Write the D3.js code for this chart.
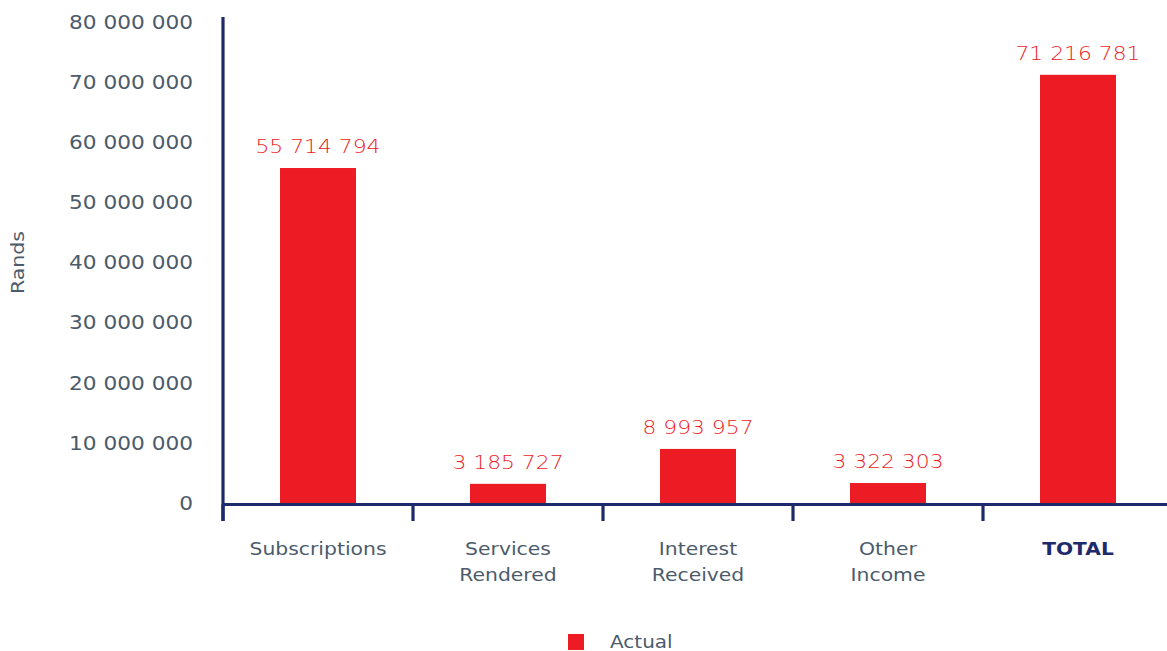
<!DOCTYPE html>
<html>
<head>
<meta charset="utf-8">
<script src="https://cdn.jsdelivr.net/npm/d3@7"></script>
<style>
  html, body { margin: 0; padding: 0; background: #ffffff; }
  svg { display: block; font-family: "DejaVu Sans", sans-serif; }
</style>
</head>
<body>
<svg id="chart" width="1167" height="651"></svg>
<script>
// Income by source, in Rands
const categories = ["Subscriptions", "Services Rendered", "Interest Received", "Other Income", "TOTAL"];
const categoryLines = [["Subscriptions"], ["Services", "Rendered"], ["Interest", "Received"], ["Other", "Income"], ["TOTAL"]];
const actualValues = [55714794, 3185727, 8993957, 3322303, 71216781];
const yTicks = [0, 10000000, 20000000, 30000000, 40000000, 50000000, 60000000, 70000000, 80000000];
const seriesName = "Actual";

const navy = "#1d2b6b";
const red = "#ed1c24";
const textGrey = "#4b5b6b";

const svg = d3.select("#chart");
const margin = { left: 223, right: -6, top: 22, bottom: 148 };
const width = 1167, height = 651;

const x = d3.scaleBand()
  .domain(categories)
  .range([margin.left, width - margin.right])
  .paddingInner(0.6)
  .paddingOuter(0.3);

const y = d3.scaleLinear()
  .domain([0, 80000000])
  .range([height - margin.bottom, margin.top]);

const fmt = v => d3.format(",")(v).replace(/,/g, " ");

// Widen glyphs to give the extended typeface look
function widen(sel, factor) {
  sel.each(function () {
    const w = this.getComputedTextLength();
    d3.select(this).attr("textLength", w * factor).attr("lengthAdjust", "spacingAndGlyphs");
  });
}

// Y tick labels
svg.append("g")
  .selectAll("text")
  .data(yTicks)
  .join("text")
  .attr("x", 193)
  .attr("y", d => y(d))
  .attr("dy", "0.36em")
  .attr("text-anchor", "end")
  .attr("fill", textGrey)
  .attr("font-size", 19)
  .text(d => fmt(d))
  .call(widen, 1.14);

// Y axis title
svg.append("text")
  .attr("transform", `translate(24, ${(y(0) + y(80000000)) / 2}) rotate(-90)`)
  .attr("text-anchor", "middle")
  .attr("fill", textGrey)
  .attr("font-size", 18)
  .text("Rands")
  .call(widen, 1.14);

// Bars
svg.append("g")
  .selectAll("rect")
  .data(categories)
  .join("rect")
  .attr("x", d => x(d))
  .attr("width", x.bandwidth())
  .attr("y", (d, i) => y(actualValues[i]))
  .attr("height", (d, i) => y(0) - y(actualValues[i]))
  .attr("fill", red);

// Value labels
svg.append("g")
  .selectAll("text")
  .data(categories)
  .join("text")
  .attr("x", d => x(d) + x.bandwidth() / 2)
  .attr("y", (d, i) => y(actualValues[i]) - 15)
  .attr("text-anchor", "middle")
  .attr("fill", red)
  .attr("font-size", 19.5)
  .attr("font-weight", 200)
  .text((d, i) => fmt(actualValues[i]))
  .call(widen, 1.12);

// Axis lines and category ticks
const baseY = y(0) + 1.5;
const axisG = svg.append("g").attr("stroke", navy).attr("stroke-width", 3.2);
axisG.append("line")
  .attr("x1", margin.left).attr("x2", margin.left)
  .attr("y1", 17).attr("y2", 521);
axisG.append("line")
  .attr("x1", margin.left).attr("x2", width)
  .attr("y1", baseY).attr("y2", baseY);
axisG.selectAll("line.tick")
  .data(categories)
  .join("line")
  .attr("class", "tick")
  .attr("x1", d => x(d) - x.bandwidth() * 0.75)
  .attr("x2", d => x(d) - x.bandwidth() * 0.75)
  .attr("y1", baseY).attr("y2", 521);

// Category labels, one text element per line
const catG = svg.append("g");
categories.forEach((c, i) => {
  categoryLines[i].forEach((line, j) => {
    catG.append("text")
      .attr("x", x(c) + x.bandwidth() / 2)
      .attr("y", 555 + j * 26)
      .attr("text-anchor", "middle")
      .attr("font-size", 18.5)
      .attr("fill", c === "TOTAL" ? navy : textGrey)
      .attr("font-weight", c === "TOTAL" ? 700 : 400)
      .text(line)
      .call(widen, c === "TOTAL" ? 1.09 : 1.1);
  });
});

// Legend
svg.append("rect")
  .attr("x", 568).attr("y", 634).attr("width", 16).attr("height", 16)
  .attr("fill", red);
svg.append("text")
  .attr("x", 610).attr("y", 648)
  .attr("fill", textGrey)
  .attr("font-size", 18.5)
  .text(seriesName)
  .call(widen, 1.08);
</script>
</body>
</html>
